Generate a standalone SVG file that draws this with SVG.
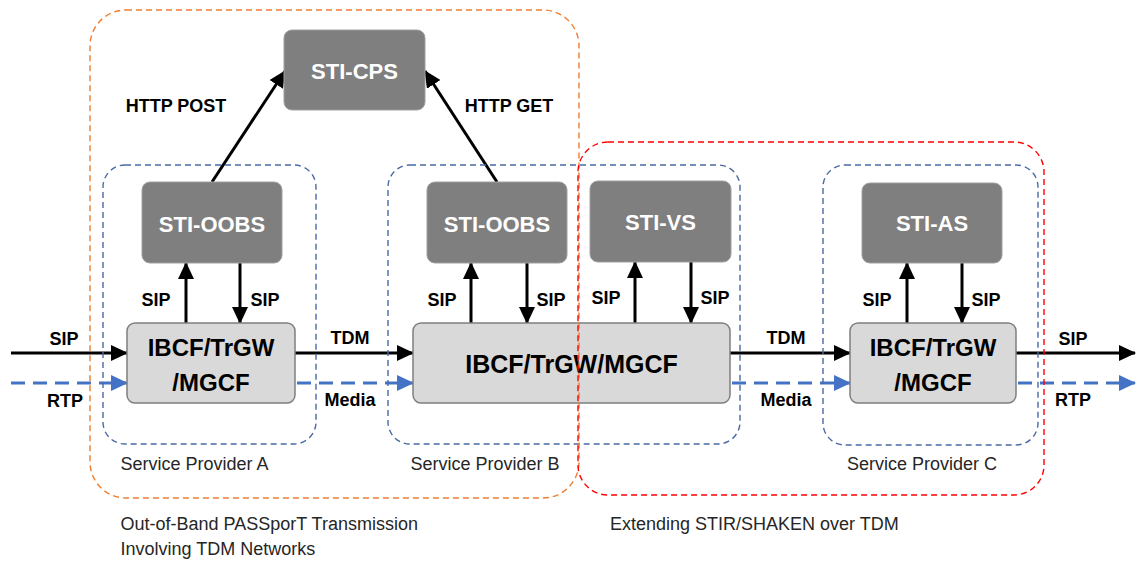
<svg xmlns="http://www.w3.org/2000/svg" width="1137" height="561" viewBox="0 0 1137 561">
<style>
.dark{fill:#7f7f7f;stroke:#a0a0a0;stroke-width:1}
.light{fill:#d9d9d9;stroke:#7f7f7f;stroke-width:1.5}
.wt{font-family:"Liberation Sans",Arial,sans-serif;font-weight:bold;fill:#ffffff;text-anchor:middle}
.bt{font-family:"Liberation Sans",Arial,sans-serif;font-weight:bold;fill:#000000;text-anchor:middle}
.lbl{font-family:"Liberation Sans",Arial,sans-serif;font-weight:bold;font-size:18px;fill:#000000;text-anchor:middle}
.cap{font-family:"Liberation Sans",Arial,sans-serif;font-size:18px;fill:#262626}
.sig{stroke:#000;stroke-width:3;fill:none}
.med{stroke:#4472c4;stroke-width:3;fill:none;stroke-dasharray:14 8}
.grpB{fill:none;stroke:#4a6aa5;stroke-width:1.4;stroke-dasharray:6 4}
.grpO{fill:none;stroke:#ed7d31;stroke-width:1.4;stroke-dasharray:6 4}
.grpR{fill:none;stroke:#ff0000;stroke-width:1.4;stroke-dasharray:6 4}
</style>
<defs>
<marker id="ah" markerUnits="userSpaceOnUse" markerWidth="17" markerHeight="16" refX="16" refY="8" orient="auto">
<path d="M0,0 L17,8 L0,16 z" fill="#000"/>
</marker>
<marker id="ahb" markerUnits="userSpaceOnUse" markerWidth="17" markerHeight="16" refX="16" refY="8" orient="auto">
<path d="M0,0 L17,8 L0,16 z" fill="#4472c4"/>
</marker>
</defs>
<rect width="1137" height="561" fill="#ffffff"/>

<g id="connectors">
<line class="sig" x1="11" y1="353" x2="127" y2="353" marker-end="url(#ah)"/>
<line class="med" x1="11" y1="383" x2="127" y2="383" marker-end="url(#ahb)"/>
<line class="sig" x1="295" y1="353" x2="413" y2="353" marker-end="url(#ah)"/>
<line class="med" x1="297" y1="383" x2="413" y2="383" marker-end="url(#ahb)"/>
<line class="sig" x1="730" y1="353" x2="850" y2="353" marker-end="url(#ah)"/>
<line class="med" x1="732" y1="383" x2="850" y2="383" marker-end="url(#ahb)"/>
<line class="sig" x1="1016" y1="353" x2="1135" y2="353" marker-end="url(#ah)"/>
<line class="med" x1="1018" y1="383" x2="1135" y2="383" marker-end="url(#ahb)"/>
<line class="sig" x1="186" y1="323" x2="186" y2="263" marker-end="url(#ah)"/>
<line class="sig" x1="240" y1="263" x2="240" y2="323" marker-end="url(#ah)"/>
<line class="sig" x1="471" y1="323" x2="471" y2="263" marker-end="url(#ah)"/>
<line class="sig" x1="527" y1="263" x2="527" y2="323" marker-end="url(#ah)"/>
<line class="sig" x1="635" y1="323" x2="635" y2="262" marker-end="url(#ah)"/>
<line class="sig" x1="691" y1="262" x2="691" y2="323" marker-end="url(#ah)"/>
<line class="sig" x1="907" y1="323" x2="907" y2="263" marker-end="url(#ah)"/>
<line class="sig" x1="962" y1="263" x2="962" y2="323" marker-end="url(#ah)"/>
<line class="sig" x1="212" y1="182" x2="285" y2="71" marker-end="url(#ah)"/>
<line class="sig" x1="497" y1="182" x2="425" y2="71" marker-end="url(#ah)"/>
<text class="lbl" x="64" y="345">SIP</text>
<text class="lbl" x="65" y="406.5">RTP</text>
<text class="lbl" x="350" y="344">TDM</text>
<text class="lbl" x="350" y="405.5">Media</text>
<text class="lbl" x="786" y="343.5">TDM</text>
<text class="lbl" x="786" y="405.5">Media</text>
<text class="lbl" x="1073" y="344.5">SIP</text>
<text class="lbl" x="1073" y="406">RTP</text>
<text class="lbl" x="156" y="305.5">SIP</text>
<text class="lbl" x="265" y="305.5">SIP</text>
<text class="lbl" x="442" y="305.5">SIP</text>
<text class="lbl" x="551" y="305.5">SIP</text>
<text class="lbl" x="606" y="304">SIP</text>
<text class="lbl" x="715" y="304">SIP</text>
<text class="lbl" x="877" y="305.5">SIP</text>
<text class="lbl" x="986" y="305.5">SIP</text>
<text class="lbl" x="176" y="112">HTTP POST</text>
<text class="lbl" x="509" y="112">HTTP GET</text>
</g>

<g id="sti-cps">
<rect class="dark" x="284" y="30" width="141" height="80" rx="8"/>
<text class="wt" x="354.5" y="79" font-size="22">STI-CPS</text>
</g>
<g id="sti-oobs-a">
<rect class="dark" x="142" y="182" width="140" height="81" rx="8"/>
<text class="wt" x="212" y="231.5" font-size="22">STI-OOBS</text>
</g>
<g id="sti-oobs-b">
<rect class="dark" x="427" y="182" width="140" height="81" rx="8"/>
<text class="wt" x="497" y="231.5" font-size="22">STI-OOBS</text>
</g>
<g id="sti-vs">
<rect class="dark" x="590" y="181" width="141" height="81" rx="8"/>
<text class="wt" x="660.5" y="229.5" font-size="22">STI-VS</text>
</g>
<g id="sti-as">
<rect class="dark" x="862" y="183" width="140" height="80" rx="8"/>
<text class="wt" x="932" y="231" font-size="22">STI-AS</text>
</g>
<g id="ibcf-a">
<rect class="light" x="127" y="323" width="168" height="80" rx="8"/>
<text class="bt" x="211" y="356" font-size="24">IBCF/TrGW</text>
<text class="bt" x="211" y="391" font-size="24">/MGCF</text>
</g>
<g id="ibcf-b">
<rect class="light" x="413" y="323" width="317" height="80" rx="8"/>
<text class="bt" x="571.5" y="373" font-size="25">IBCF/TrGW/MGCF</text>
</g>
<g id="ibcf-c">
<rect class="light" x="850" y="323" width="166" height="80" rx="8"/>
<text class="bt" x="933" y="356" font-size="24">IBCF/TrGW</text>
<text class="bt" x="933" y="391" font-size="24">/MGCF</text>
</g>

<g id="provider-a">
<rect class="grpB" x="103" y="165" width="213" height="279" rx="22"/>
<text class="cap" x="120.5" y="470">Service Provider A</text>
</g>
<g id="provider-b">
<rect class="grpB" x="388" y="165" width="352" height="279" rx="22"/>
<text class="cap" x="410.5" y="470">Service Provider B</text>
</g>
<g id="provider-c">
<rect class="grpB" x="823" y="165" width="215" height="280" rx="22"/>
<text class="cap" x="847" y="470">Service Provider C</text>
</g>
<g id="oob-region">
<rect class="grpO" x="90" y="10" width="489" height="488" rx="36"/>
<text class="cap" x="120.5" y="530">Out-of-Band PASSporT Transmission</text>
<text class="cap" x="120.5" y="555">Involving TDM Networks</text>
</g>
<g id="tdm-region">
<rect class="grpR" x="578" y="142" width="466" height="353" rx="30"/>
<text class="cap" x="610" y="530">Extending STIR/SHAKEN over TDM</text>
</g>
</svg>
